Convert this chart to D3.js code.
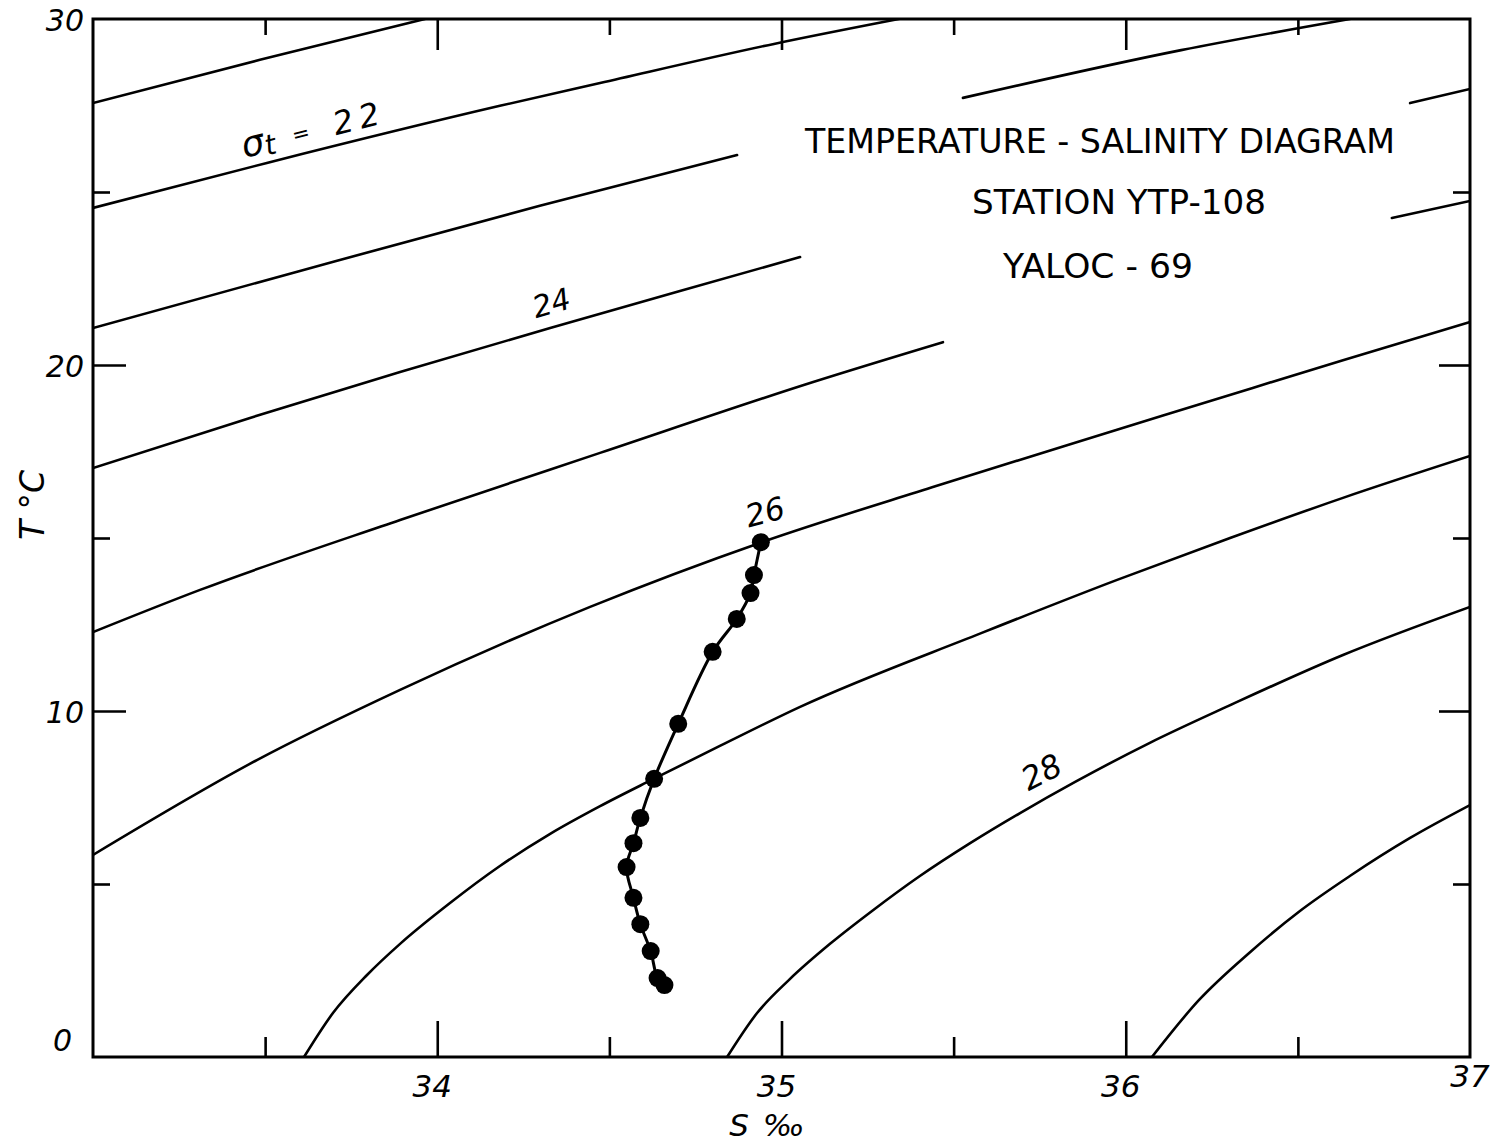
<!DOCTYPE html>
<html>
<head>
<meta charset="utf-8">
<style>
  body { margin: 0; background: #fff; }
  svg { display: block; }
  .frame { fill: none; stroke: #000; stroke-width: 3; }
  .isopycnal { fill: none; stroke: #000; stroke-width: 2.6; stroke-linecap: round; }
  .profile { fill: none; stroke: #000; stroke-width: 3; }
  .tick line { stroke: #000; stroke-width: 2.6; }
  .hand { font-family: "DejaVu Sans", sans-serif; font-style: italic; fill: #000; }
  .title { font-family: "DejaVu Sans", sans-serif; fill: #000; }
</style>
</head>
<body>
<div id="chart"></div>
<script src="https://cdn.jsdelivr.net/npm/d3@7"></script>
<script>
// station YTP-108 observations (salinity in per mille, temperature in deg C)
const salinity    = [34.94, 34.92, 34.91, 34.87, 34.80, 34.70, 34.63, 34.59, 34.57, 34.55, 34.57, 34.59, 34.62, 34.64, 34.66];
const temperature = [14.88, 13.93, 13.41, 12.66, 11.71, 9.63, 8.04, 6.91, 6.18, 5.49, 4.60, 3.84, 3.06, 2.28, 2.08];

// sigma-t isopycnals, [S, T] pairs; some are broken for the text
const sigma21 = [[33.000, 27.57], [33.485, 28.82], [33.964, 30.00]];
const sigma22 = [[33.000, 24.54], [33.505, 25.84], [34.182, 27.49], [34.473, 28.15], [34.978, 29.28], [35.341, 30.00]];
const sigma23a = [[33.000, 21.07], [33.601, 22.72], [34.298, 24.60], [34.871, 26.07]];
const sigma23b = [[35.527, 27.72], [36.161, 29.10], [36.651, 30.00]];
const sigma24a = [[33.000, 17.02], [33.456, 18.47], [33.892, 19.80], [34.328, 21.07], [34.705, 22.14], [35.054, 23.12]];
const sigma24b = [[36.826, 27.57], [37.000, 27.98]];
const sigma25a = [[33.000, 12.28], [33.311, 13.50], [33.892, 15.52], [34.473, 17.46], [35.092, 19.51], [35.469, 20.66]];
const sigma25b = [[36.773, 24.25], [37.000, 24.74]];
const sigma26 = [[33.000, 5.84], [33.476, 8.58], [33.892, 10.61], [34.444, 13.01], [34.943, 14.88], [35.449, 16.50],
                 [35.841, 17.72], [36.236, 18.93], [36.631, 20.14], [37.000, 21.24]];
const sigma27 = [[33.613, 0.00], [33.697, 1.27], [33.796, 2.37], [33.892, 3.27], [34.037, 4.45], [34.182, 5.52],
                 [34.328, 6.45], [34.473, 7.25], [34.627, 8.03], [34.821, 8.99], [35.054, 10.12], [35.580, 12.25],
                 [35.975, 13.79], [36.303, 15.00], [36.631, 16.16], [37.000, 17.37]];
const sigma28 = [[34.842, 0.00], [34.929, 1.27], [35.022, 2.23], [35.141, 3.27], [35.263, 4.22], [35.402, 5.23],
                 [35.548, 6.18], [35.693, 7.05], [35.853, 7.95], [36.070, 9.08], [36.297, 10.14], [36.631, 11.62],
                 [37.000, 13.01]];
const sigma29 = [[36.076, 0.00], [36.213, 1.65], [36.361, 3.03], [36.506, 4.22], [36.651, 5.23], [36.826, 6.33],
                 [37.000, 7.28]];

// axis ticks
const sMajor = [34, 35, 36];
const sMinor = [33.5, 34.5, 35.5, 36.5];
const sLabels = [34, 35, 36, 37];
const tMajor = [10, 20];
const tMinor = [5, 15, 25];
const tLabels = [0, 10, 20, 30];

const titleLines = ["TEMPERATURE - SALINITY DIAGRAM", "STATION  YTP-108", "YALOC - 69"];

const width = 1506, height = 1146;
const mLeft = 93, mRight = 1470, mTop = 19, mBottom = 1057;

const x = d3.scaleLinear().domain([33, 37]).range([mLeft, mRight]);
const y = d3.scaleLinear().domain([0, 30]).range([mBottom, mTop]);

const svg = d3.select("#chart").append("svg")
    .attr("width", width)
    .attr("height", height);

svg.append("clipPath").attr("id", "plot")
    .append("rect")
    .attr("x", mLeft).attr("y", mTop)
    .attr("width", mRight - mLeft).attr("height", mBottom - mTop);

// ticks, all pointing into the frame
function ticks(axis, values, size, transform) {
    svg.append("g")
        .attr("transform", transform)
        .call(axis.tickValues(values).tickSize(-size).tickFormat(""))
        .call(g => g.select(".domain").remove());
}
ticks(d3.axisBottom(x), sMajor, 36, `translate(0,${mBottom})`);
ticks(d3.axisBottom(x), sMinor, 20, `translate(0,${mBottom})`);
ticks(d3.axisTop(x), sMajor, 31, `translate(0,${mTop})`);
ticks(d3.axisTop(x), sMinor, 16, `translate(0,${mTop})`);
ticks(d3.axisLeft(y), tMajor, 33, `translate(${mLeft},0)`);
ticks(d3.axisLeft(y), tMinor, 17, `translate(${mLeft},0)`);
ticks(d3.axisRight(y), tMajor, 31, `translate(${mRight},0)`);
ticks(d3.axisRight(y), tMinor, 17, `translate(${mRight},0)`);

// isopycnals
const isoLine = d3.line()
    .x(d => x(d[0]))
    .y(d => y(d[1]))
    .curve(d3.curveMonotoneX);

const iso = svg.append("g").attr("clip-path", "url(#plot)");
[sigma21, sigma23a, sigma23b, sigma24a, sigma24b, sigma25a, sigma25b, sigma26, sigma27, sigma28, sigma29]
    .forEach(seg => iso.append("path").attr("class", "isopycnal").attr("d", isoLine(seg)));
iso.append("path").attr("class", "isopycnal").attr("stroke-width", 3.6).attr("d", isoLine(sigma22));

// frame
svg.append("rect").attr("class", "frame")
    .attr("x", mLeft).attr("y", mTop)
    .attr("width", mRight - mLeft).attr("height", mBottom - mTop);

// isopycnal labels
function label(txt, s, t, angle, size) {
    return svg.append("text").attr("class", "hand")
        .attr("transform", `translate(${x(s)},${y(t)}) rotate(${angle})`)
        .attr("text-anchor", "middle")
        .attr("font-size", size)
        .text(txt);
}
const sig = svg.append("text").attr("class", "hand")
    .attr("transform", `translate(${x(33.44)},${y(25.98)}) rotate(-14)`);
sig.append("tspan").attr("font-size", 36).text("σ");
sig.append("tspan").attr("font-size", 28).attr("dy", 3).text("t");
sig.append("tspan").attr("font-size", 21).attr("dy", -6).attr("dx", 18).text("=");
sig.append("tspan").attr("font-size", 32).attr("dy", 3).attr("dx", 25).text("2");
sig.append("tspan").attr("font-size", 32).attr("dx", 6).text("2");

label("24", 34.34, 21.50, -16, 30);
label("26", 34.96, 15.45, -15, 31);
label("28", 35.77, 7.95, -27, 32);

// T-S profile
const pts = salinity.map((s, i) => [s, temperature[i]]);
const profileLine = d3.line()
    .x(d => x(d[0]))
    .y(d => y(d[1]))
    .curve(d3.curveCatmullRom.alpha(0.5));
svg.append("path").attr("class", "profile").attr("d", profileLine(pts));
svg.append("g").selectAll("circle")
    .data(pts)
    .join("circle")
    .attr("cx", d => x(d[0]))
    .attr("cy", d => y(d[1]))
    .attr("r", 9)
    .attr("fill", "#000");

// axis labels
svg.append("g").selectAll("text")
    .data(sLabels)
    .join("text")
    .attr("class", "hand")
    .attr("x", d => x(d) - (d === 37 ? 0 : 5))
    .attr("y", d => d === 37 ? 1087 : 1097)
    .attr("text-anchor", "middle")
    .attr("font-size", 31)
    .text(d => d);

svg.append("g").selectAll("text")
    .data(tLabels)
    .join("text")
    .attr("class", "hand")
    .attr("x", d => d === 0 ? 72 : 84)
    .attr("y", d => d === 0 ? 1051 : y(d) + 12)
    .attr("text-anchor", "end")
    .attr("font-size", 30)
    .text(d => d);

svg.append("text").attr("class", "hand")
    .attr("x", 768).attr("y", 1136)
    .attr("text-anchor", "middle")
    .attr("font-size", 31)
    .attr("letter-spacing", 2)
    .text("S ‰");

svg.append("text").attr("class", "hand")
    .attr("transform", "translate(44,505) rotate(-90)")
    .attr("text-anchor", "middle")
    .attr("font-size", 33)
    .text("T °C");

// title block
const titleX = [805, 972, 1003], titleW = [590, 294, 190], titleY = [153, 214, 278];
titleLines.forEach((t, i) => {
    svg.append("text").attr("class", "title")
        .attr("x", titleX[i]).attr("y", titleY[i])
        .attr("font-size", 33)
        .attr("textLength", titleW[i])
        .attr("lengthAdjust", "spacingAndGlyphs")
        .text(t);
});
</script>
</body>
</html>
